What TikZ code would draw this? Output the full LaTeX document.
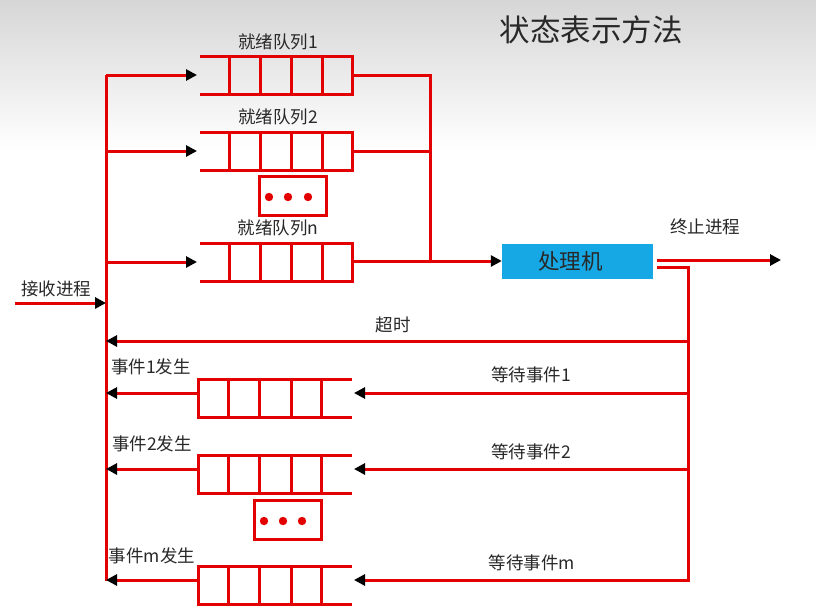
\documentclass[tikz,border=0pt]{standalone}
\usepackage{fontspec}
\setmainfont{Noto Sans CJK SC}
\usetikzlibrary{arrows.meta,calc}
\definecolor{wirered}{RGB}{226,0,0}
\definecolor{cpublue}{RGB}{22,168,228}
\definecolor{ink}{RGB}{40,40,40}
\begin{document}
\begin{tikzpicture}[x=1pt,y=-1pt,
  wire/.style={draw=wirered,line width=3pt},
  qline/.style={draw=wirered,line width=3pt,line join=miter},
  arrw/.style={-{Triangle[length=11pt,width=11pt,color=black]}},
  lbl/.style={inner sep=0pt,text=ink,font=\fontsize{17.5}{19}\selectfont},
  cpu/.style={fill=cpublue,draw=none,minimum width=151pt,minimum height=35pt,inner sep=0pt,
    font=\fontsize{21.5}{23}\selectfont,text=ink},
  dotbox/.style={draw=wirered,line width=3pt,minimum width=67pt,minimum height=39pt,inner sep=0pt},
  % ready queue: open on the left, closed on the right
  readyq/.pic={
    \draw[qline] (0,0) -- (152,0) -- (152,38) -- (0,38);
    \foreach \cx in {29,60,91,122} \draw[qline] (\cx,0) -- (\cx,38);
    \coordinate (-in) at (-3,19);
    \coordinate (-out) at (152,19);
  },
  % event queue: closed on the left, open on the right
  eventq/.pic={
    \draw[qline] (154,0) -- (0,0) -- (0,38) -- (154,38);
    \foreach \cx in {30,61,93,123} \draw[qline] (\cx,0) -- (\cx,38);
    \coordinate (-in) at (156,14);
    \coordinate (-out) at (0,14);
  }
]
\useasboundingbox (0,0) rectangle (816,613);
\fill[white] (0,0) rectangle (816,613);
\shade[top color=black!16,bottom color=white] (0,0) rectangle (816,150);

% title
\node[lbl,font=\fontsize{30.5}{33}\selectfont] (title) at (591,30) {状态表示方法};

% ready queues
\pic (rq1) at (200,56) {readyq};
\pic (rq2) at (200,132) {readyq};
\pic (rqn) at (200,243) {readyq};
\node[dotbox] (rdots) at (292.5,195.5) {};
\foreach \dx in {-23.5,-4.5,15.5} \fill[wirered] ($(rdots.center)+(\dx,1.5)$) circle[radius=4.2];
\node[lbl] (l1) at (278,42) {就绪队列1};
\node[lbl] (l2) at (278,117) {就绪队列2};
\node[lbl] (ln) at (278,228) {就绪队列n};

% event queues
\pic (eq1) at (198,379) {eventq};
\pic (eq2) at (198,455) {eventq};
\pic (eqm) at (198,566) {eventq};
\node[dotbox] (edots) at (287.5,519.5) {};
\foreach \dx in {-23.5,-4.5,14.5} \fill[wirered] ($(edots.center)+(\dx,1.5)$) circle[radius=4.2];
\node[lbl] (e1) at (151,367) {事件1发生};
\node[lbl] (e2) at (152,444) {事件2发生};
\node[lbl] (em) at (152,556) {事件m发生};
\node[lbl] (w1) at (531,375) {等待事件1};
\node[lbl] (w2) at (531,452) {等待事件2};
\node[lbl] (wm) at (532,563) {等待事件m};

% processor
\node[cpu] (cpu) at (577.5,261) {\hspace*{-14pt}处理机};
\coordinate (join) at (430,261);
\coordinate (cpuo1) at (657,260);
\coordinate (cpuo2) at (657,267);
\coordinate (exit) at (781,260);
\coordinate (rbus) at (688,580);
\coordinate (ltop) at (106,75);
\coordinate (lbot) at (106,581);
\coordinate (src) at (15,303);
\coordinate (tmo) at (688,341);
\node[lbl] (term) at (705,227) {终止进程};
\node[lbl] (recv) at (56,289) {接收进程};
\node[lbl] (tout) at (393,325) {超时};

% left bus and its branches into the ready queues
\draw[wire] (ltop) -- (lbot);
\draw[wire] (ltop) -- (rq1-in -| ltop);
\draw[wire,arrw] (ltop |- rq1-in) -- (rq1-in);
\draw[wire,arrw] (ltop |- rq2-in) -- (rq2-in);
\draw[wire,arrw] (ltop |- rqn-in) -- (rqn-in);
\draw[wire,arrw] (src) -- (src -| ltop);

% ready queues to the processor
\draw[wire] (rq1-out) -| (join);
\draw[wire] (rq2-out) -| (join);
\draw[wire] (rqn-out |- join) -- (join);
\draw[wire,arrw] (join) -- (cpu.west);

% processor outputs
\draw[wire,arrw] (cpuo1) -- (exit);
\draw[wire,arrw] (cpuo2) -| (rbus) -- (eqm-in);
\draw[wire,arrw] (tmo) -- (tmo -| ltop);
\draw[wire,arrw] (rbus |- eq1-in) -- (eq1-in);
\draw[wire,arrw] (rbus |- eq2-in) -- (eq2-in);

% event queues back to the left bus
\draw[wire,arrw] (eq1-out) -- (eq1-out -| ltop);
\draw[wire,arrw] (eq2-out) -- (eq2-out -| ltop);
\draw[wire,arrw] (eqm-out) -- (eqm-out -| ltop);
\end{tikzpicture}
\end{document}
